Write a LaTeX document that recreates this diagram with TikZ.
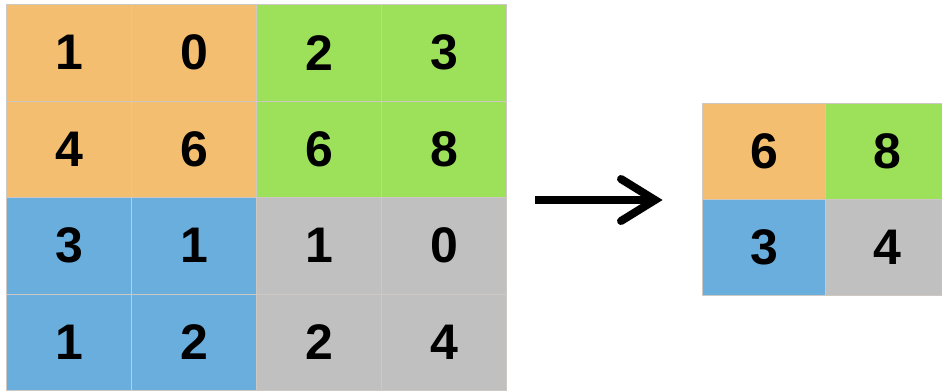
\documentclass[tikz,border=0pt]{standalone}
\usepackage{fontspec}
\setmainfont{Liberation Sans}
\usetikzlibrary{calc}
\definecolor{cOrange}{RGB}{244,190,112}
\definecolor{cGreen}{RGB}{157,224,90}
\definecolor{cBlue}{RGB}{106,174,222}
\definecolor{cGray}{RGB}{192,192,192}
\definecolor{cLine}{RGB}{205,200,195}
\tikzset{
  cellbox/.style={draw=cLine, line width=1pt, minimum width=125pt, minimum height=96.5pt, inner sep=0pt, anchor=north west, font=\fontsize{50}{50}\selectfont\bfseries, text=black},
  smallcell/.style={draw=cLine, line width=1pt, minimum width=123pt, minimum height=96pt, inner sep=0pt, anchor=north west, font=\fontsize{50}{50}\selectfont\bfseries, text=black},
  arrowline/.style={line width=8pt, black}
}
\begin{document}
\begin{tikzpicture}[x=1pt,y=-1pt]
\useasboundingbox (0,0) rectangle (942,391);
\begin{scope}
\clip (0,0) rectangle (942,391);
% left grid
\node[cellbox, fill=cOrange] (l11) at (6,4) {1};
\node[cellbox, fill=cOrange] (l12) at (131,4) {0};
\node[cellbox, fill=cGreen] (l13) at (256,4) {2};
\node[cellbox, fill=cGreen] (l14) at (381,4) {3};
\node[cellbox, fill=cOrange] (l21) at (6,100.5) {4};
\node[cellbox, fill=cOrange] (l22) at (131,100.5) {6};
\node[cellbox, fill=cGreen] (l23) at (256,100.5) {6};
\node[cellbox, fill=cGreen] (l24) at (381,100.5) {8};
\node[cellbox, fill=cBlue] (l31) at (6,197) {3};
\node[cellbox, fill=cBlue] (l32) at (131,197) {1};
\node[cellbox, fill=cGray] (l33) at (256,197) {1};
\node[cellbox, fill=cGray] (l34) at (381,197) {0};
\node[cellbox, fill=cBlue] (l41) at (6,293.5) {1};
\node[cellbox, fill=cBlue] (l42) at (131,293.5) {2};
\node[cellbox, fill=cGray] (l43) at (256,293.5) {2};
\node[cellbox, fill=cGray] (l44) at (381,293.5) {4};
% right grid
\node[smallcell, fill=cOrange] (r11) at (702,103) {6};
\node[smallcell, fill=cGreen] (r12) at (825,103) {8};
\node[smallcell, fill=cBlue] (r21) at (702,199) {3};
\node[smallcell, fill=cGray] (r22) at (825,199) {4};
% arrow
\coordinate (a1) at (535,200);
\coordinate (a2) at (658,200);
\draw[arrowline, line cap=butt] (a1) -- ($(a2)+(-6,0)$);
\draw[arrowline, line cap=round, line join=miter, miter limit=4] ($(a2)+(-37,-21)$) -- ($(a2)+(-3,0)$) -- ($(a2)+(-37,21)$);
\end{scope}
\end{tikzpicture}
\end{document}
